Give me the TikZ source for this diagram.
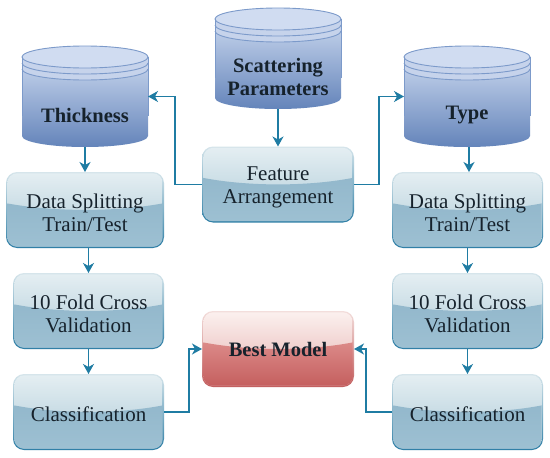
\documentclass[tikz,border=0pt]{standalone}
\usepackage{fontspec}
\setmainfont{Liberation Serif}
\usetikzlibrary{calc,arrows.meta}
\definecolor{txt}{HTML}{16222C}
\definecolor{arrowc}{HTML}{1F7CA3}
\definecolor{cylline}{HTML}{7C9ACA}
\definecolor{CYA}{HTML}{C9D7EE}
\definecolor{CYM}{HTML}{9DB2D7}
\definecolor{CYB}{HTML}{6484BA}
\definecolor{CYtop}{HTML}{D0DCF1}
\definecolor{CYrim}{HTML}{C6D3EB}
\definecolor{BA}{HTML}{E4EEF2}
\definecolor{BB}{HTML}{AECBD8}
\definecolor{BC}{HTML}{93B8CC}
\definecolor{BD}{HTML}{9DC0D2}
\definecolor{BE}{HTML}{D6E5EB}
\definecolor{BF}{HTML}{2F7FA6}
\definecolor{RA}{HTML}{FBF0EE}
\definecolor{RB}{HTML}{E6AFAE}
\definecolor{RC}{HTML}{DB8A88}
\definecolor{RD}{HTML}{C55F5F}
\definecolor{RE}{HTML}{F3DEDC}
\definecolor{RF}{HTML}{C25F5F}
\newcommand{\lowertext}{\rule{0pt}{20pt}}
\tikzset{
  x=1pt,y=-1pt,
  gloss/.style n args={6}{
    rounded corners=11pt, inner sep=0pt, outer sep=0pt, align=center, text=txt,
    font=\fontsize{21}{23}\selectfont,
    top color=#5, middle color=#6, bottom color=#6,
    path picture={
      \coordinate (nw) at ([xshift=1.3pt,yshift=-1.3pt]path picture bounding box.north west);
      \coordinate (se) at ([xshift=-1.3pt,yshift=1.3pt]path picture bounding box.south east);
      \coordinate (a) at ($(path picture bounding box.north west)!.41!(path picture bounding box.south west)$);
      \coordinate (b) at ($(path picture bounding box.north east)!.41!(path picture bounding box.south east)$);
      \begin{scope}
        \clip[rounded corners=10pt] (nw) rectangle (se);
        \shade[sharp corners, top color=#1, bottom color=#2] (nw) rectangle (se);
        \shade[sharp corners, top color=#3, bottom color=#4]
          (a) .. controls ($(a)!.3!(b)+(0pt,-9pt)$) and ($(a)!.7!(b)+(0pt,-9pt)$) .. (b)
          -- (se) -- (a |- se) -- cycle;
      \end{scope}
    }},
  bluebox/.style={gloss={BA}{BB}{BC}{BD}{BE}{BF}, minimum width=151pt, minimum height=76pt},
  redbox/.style={gloss={RA}{RB}{RC}{RD}{RE}{RF}, minimum width=152pt, minimum height=76pt},
  cylzone/.style={inner sep=0pt, outer sep=0pt, minimum width=126pt, minimum height=101pt},
  cyltext/.style={inner sep=0pt, align=center, text=txt, font=\fontsize{20.5}{23}\selectfont\bfseries},
  conn/.style={draw=arrowc, line width=1.3pt, -{Stealth[length=10pt,width=11pt,inset=3pt]}},
}
\newcommand{\dbcyl}[3]{% name, left x, top y
  \shade[top color=CYA, middle color=CYM, bottom color=CYB]
    (#2,#3+11) -- (#2,#3+90) arc[start angle=180,end angle=360,x radius=63pt,y radius=11pt]
    -- (#2+126,#3+11) -- cycle;
  \fill[CYrim] (#2,#3+11) -- (#2,#3+23) arc[start angle=180,end angle=360,x radius=63pt,y radius=11pt]
    -- (#2+126,#3+11) -- cycle;
  \draw[cylline, line width=.9pt] (#2,#3+17) arc[start angle=180,end angle=360,x radius=63pt,y radius=11pt];
  \draw[cylline, line width=.9pt] (#2,#3+23) arc[start angle=180,end angle=360,x radius=63pt,y radius=11pt];
  \draw[cylline, line width=.9pt, fill=CYtop] (#2+63,#3+11) ellipse[x radius=63pt,y radius=11pt];
  \draw[cylline, line width=.7pt] (#2,#3+11) -- (#2,#3+70);
  \draw[cylline, line width=.7pt] (#2+126,#3+11) -- (#2+126,#3+70);
  \node[cylzone] (#1) at (#2+63,#3+50.5) {};
}
\begin{document}
\begin{tikzpicture}
\useasboundingbox[fill=white] (0,0) rectangle (550,458);
\dbcyl{thick}{22}{46}
\dbcyl{scat}{215}{8}
\dbcyl{type}{404}{46}
\node[cyltext] (thicktext) at (85,115) {Thickness};
\node[cyltext] (scattext) at (278,77) {Scattering\\Parameters};
\node[cyltext] (typetext) at (467,115) {Type};

\node[bluebox, minimum width=152pt] (feature) at (278,184.5) {\lowertext Feature\\Arrangement};
\node[bluebox, minimum width=158pt] (dataL) at (85,210) {\lowertext Data Splitting\\Train/Test};
\node[bluebox] (foldL) at (88.5,311) {\lowertext 10 Fold Cross\\Validation};
\node[bluebox] (classL) at (88.5,412) {\lowertext Classification};
\node[bluebox] (dataR) at (467.5,210) {\lowertext Data Splitting\\Train/Test};
\node[bluebox] (foldR) at (467.5,311) {\lowertext 10 Fold Cross\\Validation};
\node[bluebox] (classR) at (467.5,412) {\lowertext Classification};
\node[redbox, font=\fontsize{20.5}{23}\selectfont\bfseries] (best) at (278,349) {Best Model};

\draw[conn] (scat.south) -- (feature.north);
\draw[conn] (feature.west) -- ++(-27,0) |- (thick.east);
\draw[conn] (feature.east) -- ++(25,0) |- (type.west);
\draw[conn] (thick.south) -- (dataL.north);
\draw[conn] ([xshift=2pt]type.south) -- ([xshift=1.5pt]dataR.north);
\draw[conn] (foldL.north |- dataL.south) -- (foldL.north);
\draw[conn] (foldL.south) -- (classL.north);
\draw[conn] (dataR.south) -- (foldR.north);
\draw[conn] (foldR.south) -- (classR.north);
\draw[conn] (classL.east) -- ++(25,0) |- (best.west);
\draw[conn] (classR.west) -- ++(-26,0) |- (best.east);
\end{tikzpicture}
\end{document}
